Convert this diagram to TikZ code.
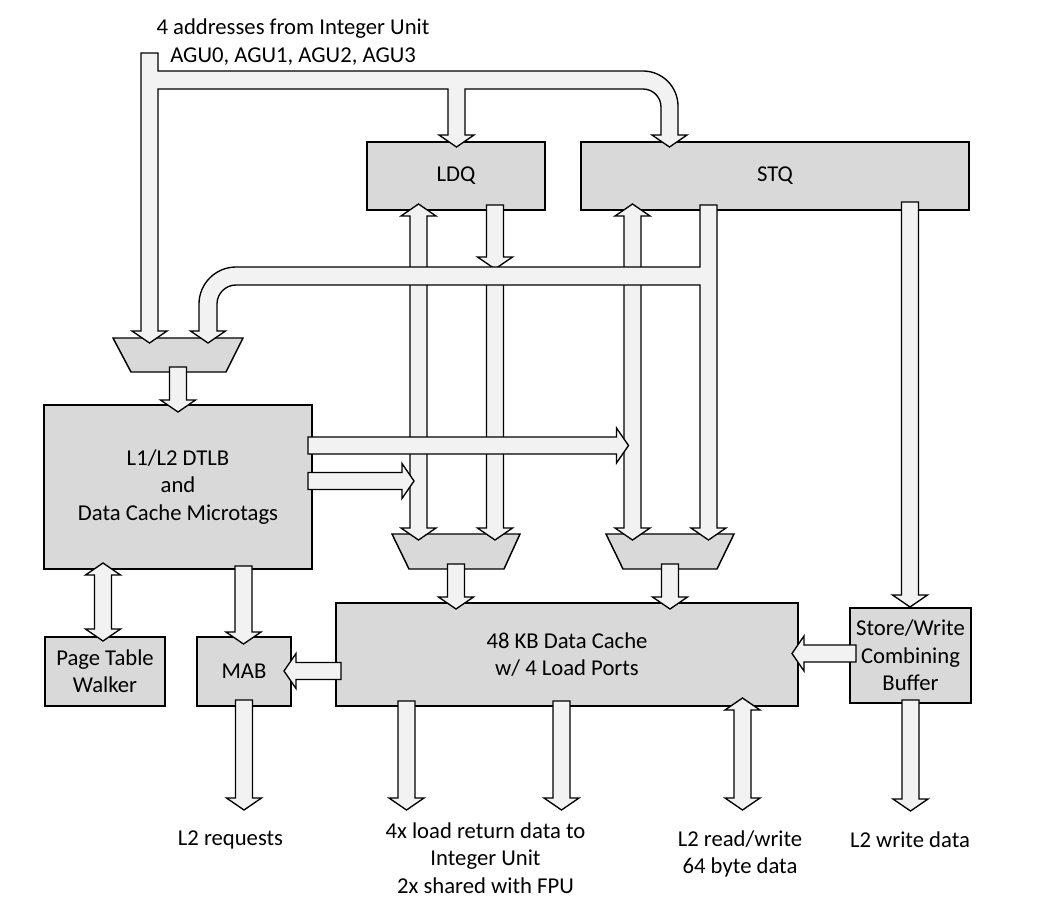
\documentclass[tikz,border=0pt]{standalone}
\usepackage{fontspec}
\setmainfont{Carlito}
\definecolor{boxfill}{HTML}{D9D9D9}
\definecolor{arrfill}{HTML}{F2F2F2}
\tikzset{
  blk/.style={draw=black, line width=1.1pt, fill=boxfill, align=center, inner sep=0pt,
    font=\fontsize{17}{20.5}\selectfont},
  arr/.style={draw=black, line width=1pt, fill=arrfill, line join=miter},
  lbl/.style={align=center, inner sep=0pt, font=\fontsize{17}{20.5}\selectfont},
}
% vertical down arrow: x, ystart, ytip
\newcommand\DArrow[3]{\draw[arr] ({#1-8.5},#2) -- ({#1-8.5},{#3-12}) -- ({#1-17.5},{#3-12}) -- (#1,#3) -- ({#1+17.5},{#3-12}) -- ({#1+8.5},{#3-12}) -- ({#1+8.5},#2) -- cycle;}
% vertical double arrow: x, ytoptip, ybottomtip
\newcommand\UDArrow[3]{\draw[arr] (#1,#2) -- ({#1+17.5},{#2+12}) -- ({#1+8.5},{#2+12}) -- ({#1+8.5},{#3-12}) -- ({#1+17.5},{#3-12}) -- (#1,#3) -- ({#1-17.5},{#3-12}) -- ({#1-8.5},{#3-12}) -- ({#1-8.5},{#2+12}) -- ({#1-17.5},{#2+12}) -- cycle;}
% horizontal right arrow: y, xstart, xtip
\newcommand\RArrow[3]{\draw[arr] (#2,{#1-8.5}) -- ({#3-12},{#1-8.5}) -- ({#3-12},{#1-17.5}) -- (#3,#1) -- ({#3-12},{#1+17.5}) -- ({#3-12},{#1+8.5}) -- (#2,{#1+8.5}) -- cycle;}
% horizontal left arrow: y, xstart, xtip
\newcommand\LArrow[3]{\draw[arr] (#2,{#1-8.5}) -- ({#3+12},{#1-8.5}) -- ({#3+12},{#1-17.5}) -- (#3,#1) -- ({#3+12},{#1+17.5}) -- ({#3+12},{#1+8.5}) -- (#2,{#1+8.5}) -- cycle;}
\begin{document}
\begin{tikzpicture}[x=0.75pt, y=-0.75pt]
\useasboundingbox (0,0) rectangle (1046,915);

% ---- boxes ----
\node[blk, minimum width=133.5pt, minimum height=51pt] (ldq) at (456,176) {LDQ};
\node[blk, minimum width=291pt, minimum height=51pt] (stq) at (775,176) {STQ};
\node[blk, minimum width=201pt, minimum height=123pt] (dtlb) at (178,487) {L1/L2 DTLB\\and\\Data Cache Microtags};
\node[blk, minimum width=90pt, minimum height=51.75pt] (ptw) at (105,671.5) {Page Table\\Walker};
\node[blk, minimum width=70.5pt, minimum height=51.75pt] (mab) at (244,671.5) {MAB};
\node[blk, minimum width=346.5pt, minimum height=77.25pt] (cache) at (567,654.5) {48 KB Data Cache\\w/ 4 Load Ports};
\node[blk, minimum width=90.75pt, minimum height=71.25pt] (swcb) at (910.5,655.5) {Store/Write\\Combining\\Buffer};

% ---- muxes ----
\draw[blk] (113,338) -- (243,338) -- (226,372) -- (131,372) -- cycle;
\coordinate (mux0) at (178,355);
\draw[blk] (392,534) -- (520,534) -- (504,569) -- (409,569) -- cycle;
\coordinate (mux1) at (456,551);
\draw[blk] (606,534) -- (734,534) -- (717,569) -- (623,569) -- cycle;
\coordinate (mux2) at (670,551);

% ---- labels ----
\node[lbl] (agu) at (293,42) {4 addresses from Integer Unit\\AGU0, AGU1, AGU2, AGU3};
\node[lbl] (l2req) at (230.5,840) {L2 requests};
\node[lbl] (ret) at (485.5,858) {4x load return data to\\Integer Unit\\2x shared with FPU};
\node[lbl] (l2rw) at (740,854) {L2 read/write\\64 byte data};
\node[lbl] (l2wd) at (910,840) {L2 write data};

% ---- address distribution from the AGUs ----
\draw[arr] (141,53) -- (158,53) -- (158,71) -- (643,71)
  .. controls (662.3,71) and (678,86.7) .. (678,106)
  -- (678,135) -- (687,135) -- (669.5,147) -- (652,135) -- (661,135) -- (661,107)
  .. controls (661,97.1) and (652.9,89) .. (643,89)
  -- (465,89) -- (465,135) -- (474,135) -- (456.5,147) -- (439,135) -- (448,135) -- (448,89)
  -- (158,89) -- (158,331) -- (167,331) -- (149.5,343) -- (132,331) -- (141,331) -- cycle;

% ---- LDQ / STQ vertical paths ----
\UDArrow{418.5}{204}{540}
\DArrow{495}{280}{540}
\DArrow{495}{205}{269}
\UDArrow{632.5}{204}{540}
\DArrow{910}{202}{607}

% ---- STQ feedback to the DTLB mux and the right mux ----
\draw[arr] (700,205) -- (717,205) -- (717,528) -- (726,528) -- (708.5,540) -- (691,528) -- (700,528)
  -- (700,285) -- (236,285)
  .. controls (225.5,285) and (217,293.5) .. (217,304)
  -- (217,331) -- (225.5,331) -- (208,343) -- (190.5,331) -- (199,331) -- (199,304)
  .. controls (199,283.6) and (215.6,267) .. (236,267)
  -- (700,267) -- cycle;

% ---- DTLB outputs ----
\RArrow{445.5}{308}{628.5}
\RArrow{481}{308}{414}

% ---- remaining connectors ----
\DArrow{178}{367}{412}
\DArrow{456}{564}{609}
\DArrow{670}{564}{609}
\DArrow{243.5}{566}{644}
\UDArrow{103}{563}{641}
\LArrow{671}{341}{284}
\LArrow{653.5}{856}{792}
\DArrow{244}{700}{810}
\DArrow{406.5}{701}{810}
\DArrow{561.5}{701}{810}
\UDArrow{742.5}{698}{810}
\DArrow{910.5}{700}{811}
\end{tikzpicture}
\end{document}
